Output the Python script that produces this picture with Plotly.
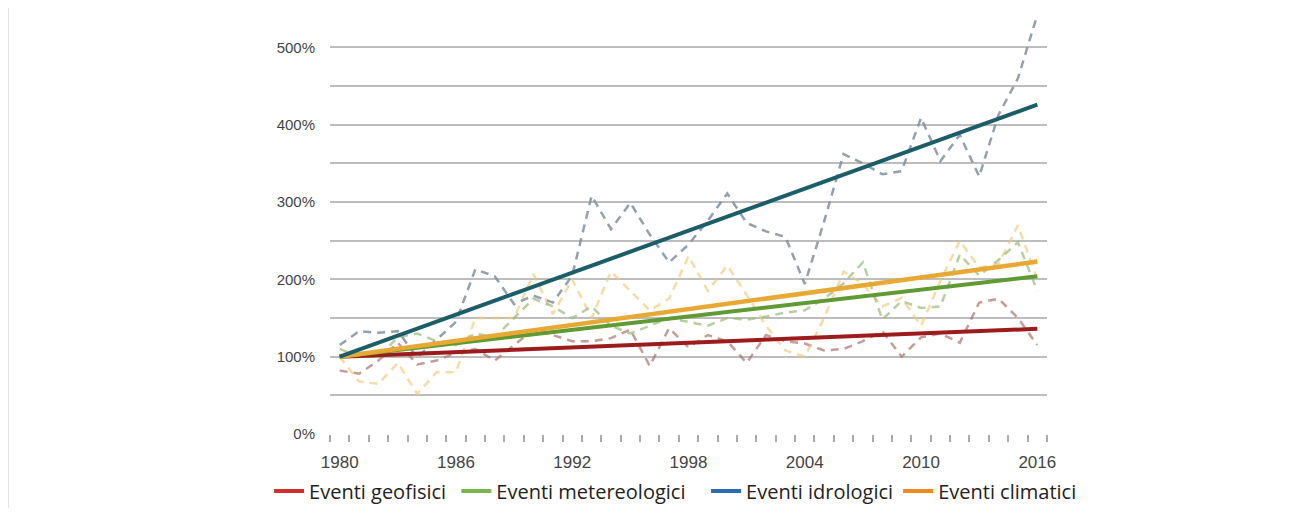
import plotly.graph_objects as go

years = list(range(1980, 2017))

geofisici = [82, 78, 95, 118, 90, 95, 105, 110, 95, 115, 135, 128, 120, 120, 124, 135, 88, 137, 112, 128,
             120, 92, 128, 120, 117, 108, 110, 120, 133, 100, 125, 130, 118, 170, 175, 150, 115]
metereologici = [110, 100, 100, 125, 130, 120, 115, 130, 125, 150, 175, 165, 150, 165, 140, 130, 140, 150, 145, 140,
                 150, 148, 152, 157, 160, 175, 195, 222, 148, 172, 163, 165, 232, 205, 225, 248, 185]
idrologici = [115, 133, 131, 133, 99, 122, 145, 213, 204, 168, 179, 170, 205, 308, 265, 299, 258, 222, 245, 276,
              311, 273, 262, 255, 194, 275, 362, 350, 336, 340, 409, 353, 387, 333, 413, 460, 542]
climatici = [100, 68, 65, 92, 52, 80, 80, 150, 150, 150, 207, 155, 200, 150, 210, 185, 160, 175, 230, 185,
             218, 180, 140, 108, 100, 150, 210, 194, 165, 176, 140, 198, 250, 215, 220, 270, 200]

names = ["Eventi geofisici", "Eventi metereologici", "Eventi idrologici", "Eventi climatici"]
name_pad = [1, 3, 0, 0]
trend_start = [100, 100, 100, 100]
trend_end = [136, 204, 426, 223]
dash_colors = ["rgba(170,115,110,0.7)", "rgba(160,190,130,0.75)", "rgba(130,145,155,0.85)", "rgba(240,200,120,0.65)"]
trend_colors = ["#9c1c1e", "#5f9a35", "#1c5e68", "#e8a934"]
trend_widths = [4, 4, 4, 4.5]
legend_colors = ["#d12f2b", "#7ab648", "#2a6db5", "#f08a1d"]

fig = go.Figure()

for s, c in zip([geofisici, climatici, metereologici, idrologici],
                [dash_colors[0], dash_colors[3], dash_colors[1], dash_colors[2]]):
    fig.add_trace(go.Scatter(x=years, y=s, mode="lines", showlegend=False, hoverinfo="skip",
                             line=dict(color=c, width=2.5, dash="8px,6px")))

for i in [0, 1, 3, 2]:
    fig.add_trace(go.Scatter(x=[years[0], years[-1]], y=[trend_start[i], trend_end[i]], mode="lines",
                             showlegend=False, line=dict(color=trend_colors[i], width=trend_widths[i])))

for n, p, c in zip(names, name_pad, legend_colors):
    fig.add_trace(go.Scatter(x=[None], y=[None], mode="lines", name=n + "\u00a0" * p,
                             line=dict(color=c, width=4)))

ytick_vals = list(range(0, 551, 50))
ytick_text = [f"{v}%" if v % 100 == 0 and v <= 500 else "" for v in ytick_vals]

fig.update_layout(
    width=1282, height=500,
    margin=dict(l=322, r=243, t=0, b=74, autoexpand=False),
    paper_bgcolor="white", plot_bgcolor="white",
    font=dict(family="Liberation Sans, Arial, sans-serif", size=15, color="#444"),
    legend=dict(orientation="h", x=-0.085, xanchor="left",
                y=-0.134, yanchor="middle",
                font=dict(family="Open Sans, sans-serif", size=20, color="#222"),
                itemwidth=30, tracegroupgap=0),
    xaxis=dict(range=[1979.5, 2016.5], tickvals=list(range(1980, 2017, 6)), automargin=False,
               ticks="", showgrid=False, zeroline=False, showline=False,
               ticklabelstandoff=16, tickfont=dict(size=17, color="#444"),
               minor=dict(ticks="outside", tick0=1979.5, dtick=1, ticklen=7, tickcolor="#aaa", tickwidth=1.5)),
    yaxis=dict(range=[0, 551], tickvals=ytick_vals, ticktext=ytick_text, automargin=False,
               showgrid=True, gridcolor="#bdbdbd", gridwidth=2, zeroline=False,
               showline=False, ticks="", ticklabelstandoff=14, tickfont=dict(size=15, color="#444")),
    shapes=[dict(type="line", xref="paper", yref="paper", x0=(0 - 322) / 717, x1=(0 - 322) / 717,
                 y0=-0.2, y1=1.02, line=dict(color="#dddddd", width=1.5))],
)

fig.write_html("out.html")
